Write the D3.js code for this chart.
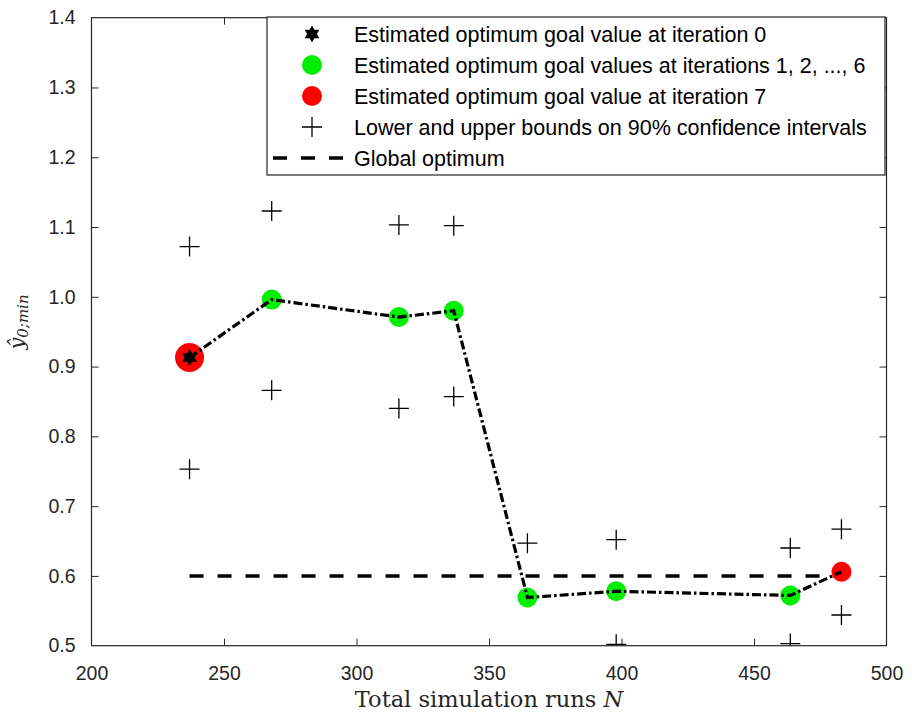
<!DOCTYPE html>
<html>
<head>
<meta charset="utf-8">
<script src="https://cdn.jsdelivr.net/npm/d3@7"></script>
<style>
  html, body { margin: 0; padding: 0; background: #fff; }
  svg { display: block; }
</style>
</head>
<body>
<svg id="chart" width="912" height="719"></svg>
<script>
// ---- data ----
const runsN = [237, 268, 316, 336.7, 364.5, 398, 463.7, 483];
const goalEstimates = [0.913, 0.996, 0.971, 0.980, 0.569, 0.578, 0.572, 0.606];
const upperBounds = [1.072, 1.123, 1.103, 1.102, 0.647, 0.652, 0.640, 0.667];
const lowerBounds = [0.753, 0.866, 0.840, 0.857, null, 0.502, 0.503, 0.544];
const globalOptimum = 0.6;
const xTicks = [200, 250, 300, 350, 400, 450, 500];
const yTicks = [0.5, 0.6, 0.7, 0.8, 0.9, 1.0, 1.1, 1.2, 1.3, 1.4];
const legendLabels = [
  "Estimated optimum goal value at iteration 0",
  "Estimated optimum goal values at iterations 1, 2, ..., 6",
  "Estimated optimum goal value at iteration 7",
  "Lower and upper bounds on 90% confidence intervals",
  "Global optimum"
];

// ---- layout ----
const svg = d3.select("#chart");
const L = 91.5, R = 886.5, T = 17.7, B = 645.7;
const x = d3.scaleLinear().domain([200, 500]).range([L, R]);
const y = d3.scaleLinear().domain([0.5, 1.4]).range([B, T]);
const axisColor = "#262626";
const tickFont = "Liberation Sans, Arial, sans-serif";

svg.append("rect").attr("x", 0).attr("y", 0).attr("width", 912).attr("height", 719).attr("fill", "#fff");

const defs = svg.append("defs");
defs.append("clipPath").attr("id", "plotclip")
  .append("rect").attr("x", L).attr("y", T).attr("width", R - L).attr("height", B - T);

// axes (ticks inward)
const tickLen = 7;
const gx = svg.append("g").attr("transform", `translate(0,${B})`)
  .call(d3.axisBottom(x).tickValues(xTicks).tickSize(-tickLen).tickPadding(tickLen + 13).tickFormat(d3.format("d")));
const gxTop = svg.append("g").attr("transform", `translate(0,${T})`)
  .call(d3.axisTop(x).tickValues(xTicks).tickSize(-tickLen).tickFormat(""));
const gy = svg.append("g").attr("transform", `translate(${L},0)`)
  .call(d3.axisLeft(y).tickValues(yTicks).tickSize(-tickLen).tickPadding(tickLen + 9).tickFormat(d3.format(".1f")));
const gyR = svg.append("g").attr("transform", `translate(${R},0)`)
  .call(d3.axisRight(y).tickValues(yTicks).tickSize(-tickLen).tickFormat(""));

[gx, gxTop, gy, gyR].forEach(g => {
  g.select(".domain").remove();
  g.selectAll(".tick line").attr("stroke", axisColor).attr("stroke-width", 1);
  g.selectAll(".tick text").attr("fill", axisColor).attr("font-family", tickFont).attr("font-size", 19.5);
});
gx.selectAll(".tick line").filter(d => d === 200 || d === 500).remove();
gxTop.selectAll(".tick line").filter(d => d === 200 || d === 500).remove();
gy.selectAll(".tick line").filter(d => d === 0.5 || d === 1.4).remove();
gyR.selectAll(".tick line").filter(d => d === 0.5 || d === 1.4).remove();

svg.append("rect").attr("x", L).attr("y", T).attr("width", R - L).attr("height", B - T)
  .attr("fill", "none").attr("stroke", axisColor).attr("stroke-width", 1.2);

const plot = svg.append("g").attr("clip-path", "url(#plotclip)");

// global optimum dashed line
plot.append("line")
  .attr("x1", x(runsN[0])).attr("x2", x(runsN[runsN.length - 1]))
  .attr("y1", y(globalOptimum)).attr("y2", y(globalOptimum))
  .attr("stroke", "#000").attr("stroke-width", 3.5).attr("stroke-dasharray", "14,14");

// confidence bounds (+)
const plusSize = 10;
function plusPath(cx, cy) {
  return `M${cx - plusSize},${cy}H${cx + plusSize}M${cx},${cy - plusSize}V${cy + plusSize}`;
}
const bounds = [];
runsN.forEach((n, i) => {
  if (upperBounds[i] != null) bounds.push([n, upperBounds[i]]);
  if (lowerBounds[i] != null) bounds.push([n, lowerBounds[i]]);
});
plot.selectAll("path.bound").data(bounds).enter().append("path")
  .attr("class", "bound")
  .attr("d", d => plusPath(x(d[0]), y(d[1])))
  .attr("stroke", "#000").attr("stroke-width", 1.3).attr("fill", "none");

// big red circle at iteration 0 location (underlay)
plot.append("circle").attr("cx", x(runsN[0])).attr("cy", y(goalEstimates[0])).attr("r", 14.5).attr("fill", "#ff0000");

// green circles iterations 1..6
plot.selectAll("circle.green").data(d3.range(1, 7)).enter().append("circle")
  .attr("class", "green")
  .attr("cx", i => x(runsN[i])).attr("cy", i => y(goalEstimates[i])).attr("r", 10)
  .attr("fill", "#00ee00");

// red circle iteration 7
plot.append("circle").attr("cx", x(runsN[7])).attr("cy", y(goalEstimates[7])).attr("r", 10).attr("fill", "#ff0000");

// connecting dash-dot line
const line = d3.line().x((d, i) => x(runsN[i])).y(d => y(d));
plot.append("path").datum(goalEstimates)
  .attr("d", line)
  .attr("fill", "none").attr("stroke", "#000").attr("stroke-width", 3.2)
  .attr("stroke-dasharray", "9,3,2.5,3").attr("stroke-linejoin", "miter");

// hexagram star
function hexagram(cx, cy, r) {
  const pts = [];
  for (let k = 0; k < 12; k++) {
    const a = -Math.PI / 2 + k * Math.PI / 6;
    const rr = k % 2 === 0 ? r : r * 0.577;
    pts.push([cx + rr * Math.cos(a), cy + rr * Math.sin(a)]);
  }
  return "M" + pts.map(p => p.join(",")).join("L") + "Z";
}
plot.append("path").attr("d", hexagram(x(runsN[0]), y(goalEstimates[0]), 8.5)).attr("fill", "#000");

// ---- legend ----
const lg = svg.append("g");
const lgX = 267, lgY = 17, lgW = 618, lgH = 158;
lg.append("rect").attr("x", lgX).attr("y", lgY).attr("width", lgW).attr("height", lgH)
  .attr("fill", "#fff").attr("stroke", axisColor).attr("stroke-width", 1.2);
const rowY = i => lgY + 17 + i * 31;
const mx = 312;
lg.append("path").attr("d", hexagram(mx, rowY(0), 8.5)).attr("fill", "#000");
lg.append("circle").attr("cx", mx).attr("cy", rowY(1)).attr("r", 10).attr("fill", "#00ee00");
lg.append("circle").attr("cx", mx).attr("cy", rowY(2)).attr("r", 10).attr("fill", "#ff0000");
lg.append("path").attr("d", plusPath(mx, rowY(3))).attr("stroke", "#000").attr("stroke-width", 1.3);
lg.append("line").attr("x1", 273).attr("x2", 345).attr("y1", rowY(4)).attr("y2", rowY(4))
  .attr("stroke", "#000").attr("stroke-width", 3.5).attr("stroke-dasharray", "14,14");
lg.selectAll("text.lbl").data(legendLabels).enter().append("text")
  .attr("class", "lbl")
  .attr("x", 354).attr("y", (d, i) => rowY(i))
  .attr("dy", "0.35em")
  .attr("font-family", tickFont).attr("font-size", 21.5).attr("fill", "#000")
  .text(d => d);

// ---- axis labels ----
const xl = svg.append("text").attr("x", (L + R) / 2).attr("y", 707)
  .attr("text-anchor", "middle").attr("font-family", "DejaVu Serif, serif").attr("font-size", 22.5).attr("fill", axisColor);
xl.append("tspan").text("Total simulation runs ");
xl.append("tspan").attr("font-style", "italic").text("N");

const yl = svg.append("text").attr("transform", `translate(24,322) rotate(-90)`)
  .attr("text-anchor", "middle").attr("font-family", "DejaVu Serif, serif").attr("font-size", 21).attr("fill", axisColor);
yl.append("tspan").attr("font-style", "italic").text("ŷ");
yl.append("tspan").attr("font-style", "italic").attr("font-size", 15).attr("dy", 4).text("0;min");
</script>
</body>
</html>
